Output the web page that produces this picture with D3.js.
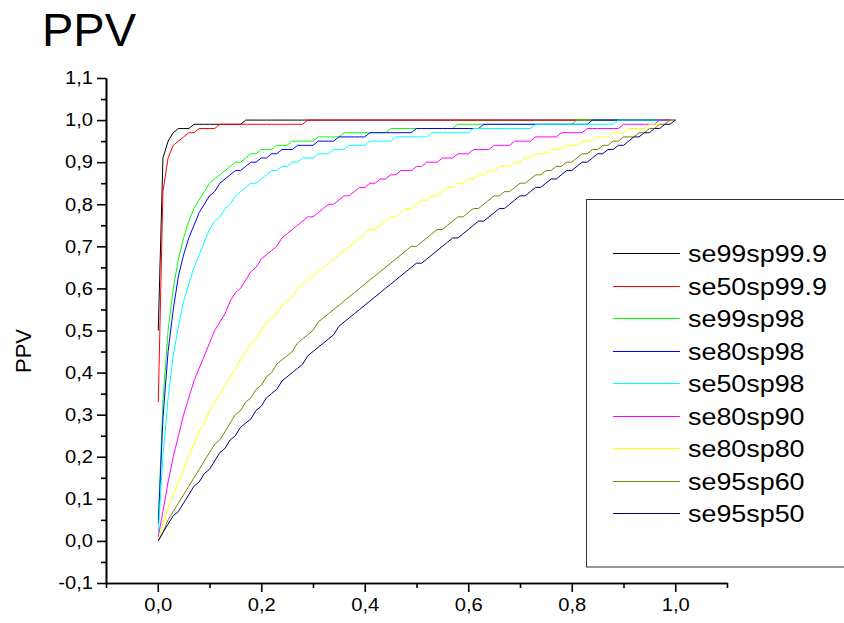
<!DOCTYPE html>
<html>
<head>
<meta charset="utf-8">
<script src="https://cdn.jsdelivr.net/npm/d3@7"></script>
<style>
  body { margin: 0; background: #fff; }
  svg { display: block; font-family: "Liberation Sans", Arial, sans-serif; }
</style>
</head>
<body>
<svg id="chart" width="844" height="623"></svg>
<script>
// prevalence (x) shared by all curves
const prevalence = [0.001,
  0.01,0.02,0.03,0.04,0.05,0.06,0.07,0.08,0.09,0.10,
  0.11,0.12,0.13,0.14,0.15,0.16,0.17,0.18,0.19,0.20,
  0.21,0.22,0.23,0.24,0.25,0.26,0.27,0.28,0.29,0.30,
  0.31,0.32,0.33,0.34,0.35,0.36,0.37,0.38,0.39,0.40,
  0.41,0.42,0.43,0.44,0.45,0.46,0.47,0.48,0.49,0.50,
  0.51,0.52,0.53,0.54,0.55,0.56,0.57,0.58,0.59,0.60,
  0.61,0.62,0.63,0.64,0.65,0.66,0.67,0.68,0.69,0.70,
  0.71,0.72,0.73,0.74,0.75,0.76,0.77,0.78,0.79,0.80,
  0.81,0.82,0.83,0.84,0.85,0.86,0.87,0.88,0.89,0.90,
  0.91,0.92,0.93,0.94,0.95,0.96,0.97,0.98,0.99,1.00];

const seriesNames = ['se99sp99.9','se50sp99.9','se99sp98','se80sp98','se50sp98','se80sp90','se80sp80','se95sp60','se95sp50'];
const seriesColors = ['#000000','#ff0000','#00ff00','#0000ff','#00ffff','#ff00ff','#ffff00','#808000','#000080'];

const se99sp999 = [0.50,
  .91,.95,.97,.98,.98,.98,.99,.99,.99,.99,
  .99,.99,.99,.99,.99,.99,1,1,1,1,
  1,1,1,1,1,1,1,1,1,1, 1,1,1,1,1,1,1,1,1,1,
  1,1,1,1,1,1,1,1,1,1, 1,1,1,1,1,1,1,1,1,1,
  1,1,1,1,1,1,1,1,1,1, 1,1,1,1,1,1,1,1,1,1,
  1,1,1,1,1,1,1,1,1,1, 1,1,1,1,1,1,1,1,1,1];
const se50sp999 = [0.33,
  .83,.91,.94,.95,.96,.97,.97,.98,.98,.98,
  .98,.99,.99,.99,.99,.99,.99,.99,.99,.99,
  .99,.99,.99,.99,.99,.99,.99,.99,1,1,
  1,1,1,1,1,1,1,1,1,1, 1,1,1,1,1,1,1,1,1,1,
  1,1,1,1,1,1,1,1,1,1, 1,1,1,1,1,1,1,1,1,1,
  1,1,1,1,1,1,1,1,1,1, 1,1,1,1,1,1,1,1,1,1,
  1,1,1,1,1,1,1,1,1,1];
const se99sp98 = [0.05,
  .33,.50,.60,.67,.72,.76,.79,.81,.83,.85,
  .86,.87,.88,.89,.90,.90,.91,.92,.92,.93,
  .93,.93,.94,.94,.94,.95,.95,.95,.95,.95,
  .96,.96,.96,.96,.96,.97,.97,.97,.97,.97,
  .97,.97,.97,.97,.98,.98,.98,.98,.98,.98,
  .98,.98,.98,.98,.98,.98,.98,.99,.99,.99,
  .99,.99,.99,.99,.99,.99,.99,.99,.99,.99,
  .99,.99,.99,.99,.99,.99,.99,.99,.99,.99,
  1,1,1,1,1,1,1,1,1,1, 1,1,1,1,1,1,1,1,1,1];
const se80sp98 = [0.04,
  .29,.45,.55,.63,.68,.72,.75,.78,.80,.82,
  .83,.85,.86,.87,.88,.88,.89,.90,.90,.91,
  .91,.92,.92,.93,.93,.93,.94,.94,.94,.94,
  .95,.95,.95,.95,.96,.96,.96,.96,.96,.96,
  .97,.97,.97,.97,.97,.97,.97,.97,.97,.98,
  .98,.98,.98,.98,.98,.98,.98,.98,.98,.98,
  .98,.98,.99,.99,.99,.99,.99,.99,.99,.99,
  .99,.99,.99,.99,.99,.99,.99,.99,.99,.99,
  .99,.99,.99,1,1,1,1,1,1,1, 1,1,1,1,1,1,1,1,1,1];
const se50sp98 = [0.02,
  .20,.34,.44,.51,.57,.61,.65,.68,.71,.74,
  .76,.77,.79,.80,.82,.83,.84,.85,.85,.86,
  .87,.88,.88,.89,.89,.90,.90,.91,.91,.91,
  .92,.92,.92,.93,.93,.93,.94,.94,.94,.94,
  .95,.95,.95,.95,.95,.96,.96,.96,.96,.96,
  .96,.96,.97,.97,.97,.97,.97,.97,.97,.97,
  .98,.98,.98,.98,.98,.98,.98,.98,.98,.98,
  .98,.98,.99,.99,.99,.99,.99,.99,.99,.99,
  .99,.99,.99,.99,.99,.99,.99,.99,1,1, 1,1,1,1,1,1,1,1,1,1];
const se80sp90 = [0.01,
  .07,.14,.20,.25,.30,.34,.38,.41,.44,.47,
  .50,.52,.54,.57,.59,.60,.62,.64,.65,.67,
  .68,.69,.70,.72,.73,.74,.75,.76,.77,.77,
  .78,.79,.80,.80,.81,.82,.82,.83,.84,.84,
  .85,.85,.86,.86,.87,.87,.88,.88,.88,.89,
  .89,.90,.90,.90,.91,.91,.91,.92,.92,.92,
  .93,.93,.93,.93,.94,.94,.94,.94,.95,.95,
  .95,.95,.96,.96,.96,.96,.96,.97,.97,.97,
  .97,.97,.98,.98,.98,.98,.98,.98,.98,.99,
  .99,.99,.99,.99,.99,.99,1,1,1,1];
const se80sp80 = [0.00,
  .04,.08,.11,.14,.17,.20,.23,.26,.28,.31,
  .33,.35,.37,.39,.41,.43,.45,.47,.48,.50,
  .52,.53,.54,.56,.57,.58,.60,.61,.62,.63,
  .64,.65,.66,.67,.68,.69,.70,.71,.72,.73,
  .74,.74,.75,.76,.77,.77,.78,.79,.79,.80,
  .81,.81,.82,.82,.83,.84,.84,.85,.85,.86,
  .86,.87,.87,.88,.88,.89,.89,.89,.90,.90,
  .91,.91,.92,.92,.92,.93,.93,.93,.94,.94,
  .94,.95,.95,.95,.96,.96,.96,.97,.97,.97,
  .98,.98,.98,.98,.99,.99,.99,.99,1,1];
const se95sp60 = [0.00,
  .02,.05,.07,.09,.11,.13,.15,.17,.19,.21,
  .23,.24,.26,.28,.30,.31,.33,.34,.36,.37,
  .39,.40,.42,.43,.44,.45,.47,.48,.49,.50,
  .52,.53,.54,.55,.56,.57,.58,.59,.60,.61,
  .62,.63,.64,.65,.66,.67,.68,.69,.70,.70,
  .71,.72,.73,.74,.74,.75,.76,.77,.77,.78,
  .79,.79,.80,.81,.82,.82,.83,.83,.84,.85,
  .85,.86,.87,.87,.88,.88,.89,.89,.90,.90,
  .91,.92,.92,.93,.93,.94,.94,.95,.95,.96,
  .96,.96,.97,.97,.98,.98,.99,.99,1,1];
const se95sp50 = [0.00,
  .02,.04,.06,.07,.09,.11,.13,.14,.16,.17,
  .19,.21,.22,.24,.25,.27,.28,.29,.31,.32,
  .34,.35,.36,.38,.39,.40,.41,.42,.44,.45,
  .46,.47,.48,.49,.51,.52,.53,.54,.55,.56,
  .57,.58,.59,.60,.61,.62,.63,.64,.65,.66,
  .66,.67,.68,.69,.70,.71,.72,.72,.73,.74,
  .75,.76,.76,.77,.78,.79,.79,.80,.81,.82,
  .82,.83,.84,.84,.85,.86,.86,.87,.88,.88,
  .89,.90,.90,.91,.92,.92,.93,.93,.94,.94,
  .95,.96,.96,.97,.97,.98,.98,.99,.99,1];

const seriesValues = [se99sp999, se50sp999, se99sp98, se80sp98, se50sp98, se80sp90, se80sp80, se95sp60, se95sp50];

// tick values
const xMajorTicks = [0, 0.2, 0.4, 0.6, 0.8, 1.0];
const xMinorTicks = [-0.1, 0.1, 0.3, 0.5, 0.7, 0.9, 1.1];
const yMajorTicks = [-0.1, 0, 0.1, 0.2, 0.3, 0.4, 0.5, 0.6, 0.7, 0.8, 0.9, 1.0, 1.1];
const yMinorTicks = [-0.05, 0.05, 0.15, 0.25, 0.35, 0.45, 0.55, 0.65, 0.75, 0.85, 0.95, 1.05];

const svg = d3.select('#chart');

// scales: plot frame in pixels
const x = d3.scaleLinear().domain([-0.1, 1.1]).range([106, 727]);
const y = d3.scaleLinear().domain([-0.1, 1.1]).range([583, 78]);

// comma decimals, plain hyphen minus
const fmt = d3.formatLocale({decimal: ',', thousands: '.', grouping: [3], currency: ['', ''], minus: '-'}).format('.1f');
const stretch = 1.12;

// title
svg.append('text')
  .attr('x', 42).attr('y', 46)
  .attr('font-size', 47)
  .text('PPV');

// y axis label
svg.append('text')
  .attr('transform', 'translate(31,351) rotate(-90)')
  .attr('text-anchor', 'middle')
  .attr('font-size', 22)
  .text('PPV');

// curves
const line = d3.line()
  .x((d, i) => x(prevalence[i]))
  .y(d => y(d));

svg.append('g')
  .selectAll('path')
  .data(seriesValues)
  .join('path')
  .attr('d', line)
  .attr('fill', 'none')
  .attr('stroke', (d, i) => seriesColors[i])
  .attr('stroke-width', 1);

// axes
function styleAxis(g) {
  g.selectAll('path, line').attr('stroke', '#000').attr('stroke-width', 1.6);
  g.selectAll('text').attr('fill', '#000').attr('font-size', 18).attr('font-family', null);
}

const yMajor = svg.append('g')
  .attr('transform', 'translate(106,0)')
  .call(d3.axisLeft(y).tickValues(yMajorTicks).tickFormat(fmt).tickSize(9).tickSizeOuter(0).tickPadding(5))
  .call(styleAxis);
yMajor.selectAll('text')
  .attr('x', -13 / stretch)
  .attr('transform', `scale(${stretch},1)`);

svg.append('g')
  .attr('transform', 'translate(106,0)')
  .call(d3.axisLeft(y).tickValues(yMinorTicks).tickFormat('').tickSize(5).tickSizeOuter(0))
  .call(styleAxis);

const xMajor = svg.append('g')
  .attr('transform', 'translate(0,583)')
  .call(d3.axisBottom(x).tickValues(xMajorTicks).tickFormat(fmt).tickSize(9).tickSizeOuter(0).tickPadding(6))
  .call(styleAxis);
xMajor.selectAll('text')
  .attr('transform', `scale(${stretch},1)`);

svg.append('g')
  .attr('transform', 'translate(0,583)')
  .call(d3.axisBottom(x).tickValues(xMinorTicks).tickFormat('').tickSize(5).tickSizeOuter(0))
  .call(styleAxis);

// legend
const legend = svg.append('g');
legend.append('rect')
  .attr('x', 586.5).attr('y', 199.5)
  .attr('width', 300).attr('height', 367.5)
  .attr('fill', 'none')
  .attr('stroke', '#333')
  .attr('stroke-width', 1);

const rows = legend.selectAll('g.row')
  .data(seriesNames)
  .join('g')
  .attr('class', 'row')
  .attr('transform', (d, i) => `translate(0,${Math.round(253 + i * 32.5)})`);

rows.append('line')
  .attr('x1', 613).attr('x2', 680)
  .attr('y1', 0.5).attr('y2', 0.5)
  .attr('stroke', (d, i) => seriesColors[i])
  .attr('stroke-width', 1.3)
  .attr('shape-rendering', 'crispEdges');

rows.append('text')
  .attr('transform', `translate(688,9) scale(1.12,1)`)
  .attr('font-size', 24)
  .text(d => d);
</script>
</body>
</html>
